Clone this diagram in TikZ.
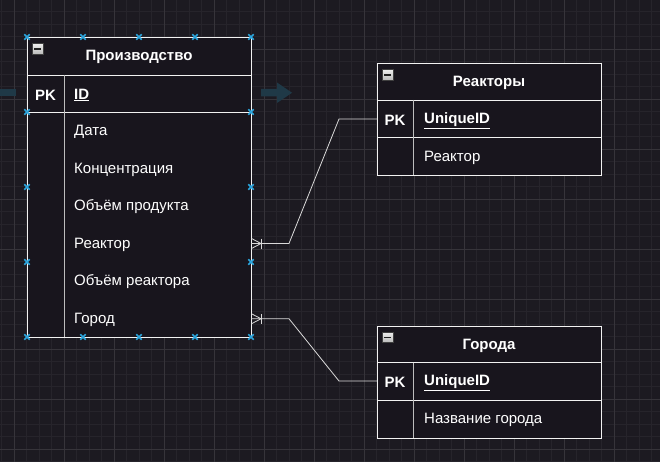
\documentclass[tikz,border=0pt]{standalone}
\usepackage{fontspec}
\setmainfont{Liberation Sans}
\definecolor{bgc}{HTML}{1C1A21}
\definecolor{gridminor}{HTML}{26242B}
\definecolor{gridmajor}{HTML}{36343A}
\definecolor{tblfill}{HTML}{18151D}
\definecolor{linec}{HTML}{F2F2F2}
\definecolor{innerc}{HTML}{BDBDBD}
\definecolor{handlec}{HTML}{2BA6DE}
\definecolor{hoverc}{HTML}{1F3947}
\begin{document}
\begin{tikzpicture}[x=1pt,y=-1pt,
  tbl/.style={draw=linec, fill=tblfill, line width=0.9pt, inner sep=0pt, anchor=north west, rectangle},
  hdr/.style={font=\bfseries\fontsize{15}{18}\selectfont, text=white, inner sep=0pt},
  pkt/.style={font=\bfseries\fontsize{15}{18}\selectfont, text=white, inner sep=0pt},
  fld/.style={font=\fontsize{15}{18}\selectfont, text=white, anchor=west, inner sep=0pt},
  keyf/.style={font=\bfseries\fontsize{15}{18}\selectfont, text=white, anchor=west, inner sep=0pt},
  sepline/.style={draw=linec, line width=0.9pt},
  colline/.style={draw=innerc, line width=0.9pt},
  conn/.style={draw=linec!90!black, line width=0.8pt},
  handlex/.style={draw=handlec, line width=1.6pt},
  minusicon/.style={draw=gray!50!black, top color=gray!15, bottom color=gray!55, line width=0.6pt, minimum width=11pt, minimum height=10.5pt, inner sep=0pt, rectangle}
]
% background and grid
\fill[bgc] (0,0) rectangle (660,462);
\useasboundingbox (0,0) rectangle (660,462);
\begin{scope}
\clip (0,0) rectangle (660,462);
\foreach \i in {0,...,53} {
  \draw[gridminor, line width=0.8pt] (1.5+12.5*\i,0) -- (1.5+12.5*\i,462);
}
\foreach \i in {0,...,37} {
  \draw[gridminor, line width=0.8pt] (0,11.5+12.5*\i) -- (660,11.5+12.5*\i);
}
\foreach \i in {0,...,13} {
  \draw[gridmajor, line width=0.8pt] (14+50*\i,0) -- (14+50*\i,462);
}
\foreach \i in {0,...,9} {
  \draw[gridmajor, line width=0.8pt] (0,-1+50*\i) -- (660,-1+50*\i);
}
% hover arrows
\fill[hoverc] (-20,89) rectangle (16,96.5);
\fill[hoverc] (261,89) -- (277,89) -- (277,82.5) -- (292,92.75) -- (277,103) -- (277,96.5) -- (261,96.5) -- cycle;
\end{scope}

% ---- Table: Производство ----
\node[tbl, minimum width=224pt, minimum height=300pt] (prod) at (27,37) {};
\draw[sepline] (27,75) -- (251,75);
\draw[sepline] (27,112) -- (251,112);
\draw[colline] (64,75) -- (64,337);
\node[minusicon] (prodicon) at (37.5,49) {};
\draw[gray!25!black, line width=1.4pt] (34,49) -- (41,49);
\node[hdr] (prodtitle) at (139,57) {Производство};
\node[pkt] (prodpk) at (45.5,95) {PK};
\node[keyf] (prodid) at (74,95) {\underline{ID}};
\node[fld] (f1) at (74,132) {Дата};
\node[fld] (f2) at (74,169.5) {Концентрация};
\node[fld] (f3) at (74,207) {Объём продукта};
\node[fld] (f4) at (74,244.5) {Реактор};
\node[fld] (f5) at (74,282) {Объём реактора};
\node[fld] (f6) at (74,319.5) {Город};

% ---- Table: Реакторы ----
\node[tbl, minimum width=224pt, minimum height=112pt] (rea) at (377,63) {};
\draw[sepline] (377,100) -- (601,100);
\draw[sepline] (377,137.5) -- (601,137.5);
\draw[colline] (413.5,100) -- (413.5,175);
\node[minusicon] (reaicon) at (387.5,75) {};
\draw[gray!25!black, line width=1.4pt] (384,75) -- (391,75);
\node[hdr] (reatitle) at (489,83) {Реакторы};
\node[pkt] (reapk) at (395,120.5) {PK};
\node[keyf] (reaid) at (424,120.5) {\underline{UniqueID}};
\node[fld] (reaf1) at (424,158) {Реактор};

% ---- Table: Города ----
\node[tbl, minimum width=224pt, minimum height=112pt] (cit) at (377,325.5) {};
\draw[sepline] (377,362.5) -- (601,362.5);
\draw[sepline] (377,400) -- (601,400);
\draw[colline] (413.5,362.5) -- (413.5,437.5);
\node[minusicon] (citicon) at (387.5,337.5) {};
\draw[gray!25!black, line width=1.4pt] (384,337.5) -- (391,337.5);
\node[hdr] (cittitle) at (489,345.5) {Города};
\node[pkt] (citpk) at (395,382.5) {PK};
\node[keyf] (citid) at (424,382.5) {\underline{UniqueID}};
\node[fld] (citf1) at (424,420) {Название города};

% ---- connectors ----
\coordinate (a1) at (289,243.5);
\coordinate (a2) at (339,119);
\coordinate (b1) at (289,318.75);
\coordinate (b2) at (339,381);
\coordinate (p1) at (251,243.5);
\coordinate (p2) at (251,318.75);
\draw[conn] (p1) -- (a1) -- (a2) -- (rea.west |- a2);
\draw[conn] (p2) -- (b1) -- (b2) -- (cit.west |- b2);
% crow's feet with bar
\foreach \yy in {243.5,318.75} {
  \draw[conn] (251.5,\yy-5) -- (261,\yy) -- (251.5,\yy+5);
  \draw[conn] (261,\yy-5) -- (261,\yy+5);
}

% ---- selection handles ----
\foreach \hx/\hy in {27/37,83/37,139/37,195/37,251/37,
                     27/337,83/337,139/337,195/337,251/337,
                     27/112,27/187,27/262,251/112,251/187,251/262} {
  \draw[handlex] (\hx-2.7,\hy-2.7) -- (\hx+2.7,\hy+2.7);
  \draw[handlex] (\hx-2.7,\hy+2.7) -- (\hx+2.7,\hy-2.7);
}
\end{tikzpicture}
\end{document}
